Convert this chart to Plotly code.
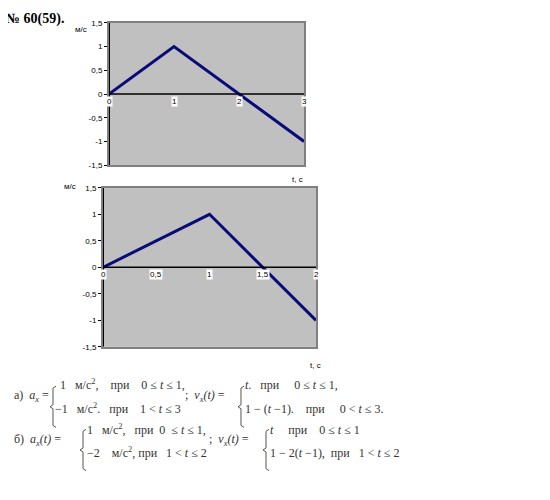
import plotly.graph_objects as go

W, H = 550, 500
DX, DY = -8, -9  # page offset compensation

# chart 1
t1 = [0, 1, 3]
v1 = [0, 1, -1]
xticks1 = [0, 1, 2, 3]
# chart 2
t2 = [0, 1, 2]
v2 = [0, 1, -1]
xticks2 = [0, 0.5, 1, 1.5, 2]
yticks = [-1.5, -1, -0.5, 0, 0.5, 1, 1.5]


def lab(v):
    return ("%g" % v).replace(".", ",")


def px(x):
    return (x + DX) / W


def py(y):
    return 1 - (y + DY) / H


fig = go.Figure()
fig.add_trace(go.Scatter(x=t1, y=v1, mode="lines", line=dict(color="#0a0a78", width=3),
                         xaxis="x", yaxis="y", showlegend=False))
fig.add_trace(go.Scatter(x=t2, y=v2, mode="lines", line=dict(color="#0a0a78", width=3),
                         xaxis="x2", yaxis="y2", showlegend=False))

lab_font = dict(family="Liberation Sans", size=8, color="black")
ax_common = dict(showgrid=False, zeroline=False, linecolor="#808080", linewidth=2, mirror=True,
                 showline=True)
yax = dict(ax_common, range=[-1.5, 1.5], tickvals=yticks, ticktext=[lab(v) for v in yticks],
           ticks="outside", ticklen=3, tickcolor="black", tickfont=lab_font)

fig.update_layout(
    width=W, height=H, margin=dict(l=0, r=0, t=0, b=0),
    paper_bgcolor="white", plot_bgcolor="#c0c0c0",
    xaxis=dict(ax_common, domain=[px(109), px(304)], range=[0, 3], showticklabels=False, anchor="y"),
    yaxis=dict(yax, domain=[py(165), py(20)], anchor="x"),
    xaxis2=dict(ax_common, domain=[px(103), px(316)], range=[0, 2], showticklabels=False, anchor="y2"),
    yaxis2=dict(yax, domain=[py(350), py(188)], anchor="x2"),
)

for xa, ya, xm in [("x", "y", 3), ("x2", "y2", 2)]:
    fig.add_shape(type="line", xref=xa, yref=ya, x0=0, x1=xm, y0=0, y1=0, line=dict(color="black", width=1.5))
    fig.add_shape(type="line", xref=xa, yref=ya, x0=0, x1=0, y0=-1.5, y1=1.5, line=dict(color="black", width=2))

for xa, ya, ticks in [("x", "y", xticks1), ("x2", "y2", xticks2)]:
    for v in ticks:
        fig.add_annotation(x=v, y=0, xref=xa, yref=ya, text=lab(v), showarrow=False, yanchor="top",
                           yshift=-2, font=lab_font, bgcolor="white", borderpad=0)

ann = [
    (73, 20, "м/с"), (290, 180, "t, с"),
    (62, 187, "м/с"), (308, 376, "t, с"),
]
for x, y, s in ann:
    fig.add_annotation(x=px(x), y=py(y), xref="paper", yref="paper", text=s, showarrow=False,
                       font=lab_font, xanchor="left")

fig.add_annotation(x=px(4), y=1, xref="paper", yref="paper", text="<b>№ 60(59).</b>", yanchor="top",
                   yshift=3, showarrow=False, xanchor="left",
                   font=dict(family="Liberation Serif", size=14, color="black"))

serif = dict(family="Liberation Serif", size=12, color="#333")
texts = [
    (12, 410, "а)  <i>a<sub>x</sub></i> ="),
    (58, 398, "1   м/с<sup>2</sup>,    при    0 ≤ <i>t</i> ≤ 1,"),
    (53, 422, "−1   м/с<sup>2</sup>.   при    1 < <i>t</i> ≤ 3"),
    (183, 410, ";  <i>v<sub>x</sub>(t)</i> ="),
    (243, 398, "<i>t</i>.   при     0 ≤ <i>t</i> ≤ 1,"),
    (243, 422, "1 − (<i>t</i> −1).    при     0 < <i>t</i> ≤ 3."),
    (12, 455, "б)  <i>a<sub>x</sub>(t)</i> ="),
    (85, 444, "1   м/с<sup>2</sup>,   при  0  ≤ <i>t</i> ≤ 1,"),
    (85, 467, "−2    м/с<sup>2</sup>, при   1 < <i>t</i> ≤ 2"),
    (207, 455, ";  <i>v<sub>x</sub>(t)</i> ="),
    (268, 444, "<i>t</i>     при    0 ≤ <i>t</i> ≤ 1"),
    (268, 467, "1 − 2(<i>t</i> −1),  при   1 < <i>t</i> ≤ 2"),
]
for x, y, s in texts:
    fig.add_annotation(x=px(x), y=py(y), xref="paper", yref="paper", text=s, showarrow=False,
                       xanchor="left", font=serif)

# curly braces drawn as paths in paper space
def brace(x, y0, y1):
    ym = (y0 + y1) / 2
    pts = [(x + 4, y0), (x + 1, y0 + 2), (x + 1, ym - 2), (x - 2, ym), (x + 1, ym + 2), (x + 1, y1 - 2), (x + 4, y1)]
    d = "M " + " L ".join("%.4f,%.4f" % (px(a), py(b)) for a, b in pts)
    fig.add_shape(type="path", xref="paper", yref="paper", path=d, line=dict(color="#555", width=1))


for x, y0, y1 in [(52, 390, 432), (240, 390, 432), (82, 434, 476), (265, 434, 476)]:
    brace(x, y0, y1)

fig.write_html("out.html")
